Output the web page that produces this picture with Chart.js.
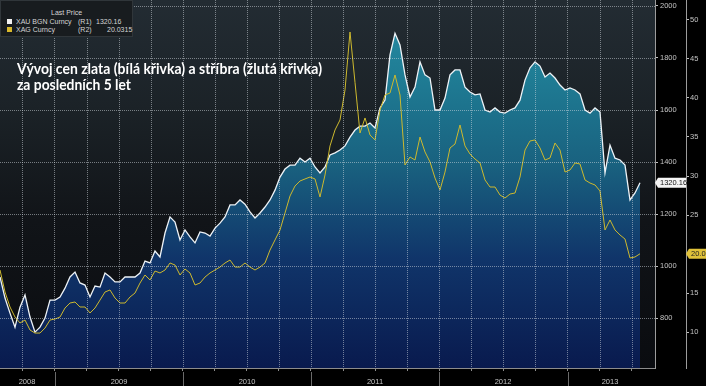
<!DOCTYPE html>
<html>
<head>
<meta charset="utf-8">
<title>Zlato a stříbro</title>
<script src="https://cdn.jsdelivr.net/npm/chart.js@4.4.0/dist/chart.umd.min.js"></script>
<style>
  html, body { margin: 0; padding: 0; background: #000; }
  #wrap { position: relative; width: 706px; height: 386px; overflow: hidden; }
  #chart { position: absolute; left: 0; top: 0; }
  .legend {
    position: absolute; left: 0; top: 0; width: 133px; height: 37px;
    background: #181c1f; border: 1px solid #30363a; box-sizing: border-box;
    font: 7px 'Liberation Sans', Arial, sans-serif; color: #d4d4d4;
  }
  .legend span, .legend i { position: absolute; line-height: 9px; white-space: nowrap; }
  .legend i { width: 5px; height: 5px; }
  .title-line {
    position: absolute; left: 17px; white-space: nowrap;
    font: bold 14.5px Lato, 'Open Sans', sans-serif; line-height: 15px;
    color: #fff; transform-origin: left top;
  }
</style>
</head>
<body>
<div id="wrap">
  <canvas id="chart" width="706" height="386"></canvas>

  <div class="legend">
    <span style="left:50px; top:7px;">Last Price</span>
    <i style="left:6px; top:18px; background:#f2f2f2;"></i>
    <span style="left:15px; top:16px;">XAU BGN Curncy</span>
    <span style="left:77px; top:16px;">(R1)</span>
    <span style="left:95px; top:16px;" id="goldLast"></span>
    <i style="left:6px; top:26px; background:#d9b92c;"></i>
    <span style="left:15px; top:24px;">XAG Curncy</span>
    <span style="left:77px; top:24px;">(R2)</span>
    <span style="left:106px; top:24px;" id="silverLast"></span>
  </div>

  <div class="title-line" data-w="305" style="top:61px;">Vývoj cen zlata (bílá křivka) a stříbra (žlutá křivka)</div>
  <div class="title-line" data-w="114" style="top:77px;">za posledních 5 let</div>
</div>

<script>
// vzorky cca po dvou týdnech, od léta 2008 do července 2013
const goldPrice = [
  958, 877, 819, 765, 842, 889, 804, 746, 765, 800,
  869, 869, 881, 915, 958, 977, 935, 927, 881, 923,
  919, 973, 958, 939, 939, 958, 958, 958, 973, 1019,
  1012, 1058, 1035, 1127, 1189, 1169, 1100, 1139, 1112, 1089,
  1131, 1127, 1115, 1146, 1165, 1189, 1235, 1235, 1254, 1238,
  1208, 1185, 1204, 1227, 1254, 1292, 1342, 1373, 1388, 1388,
  1415, 1400, 1415, 1381, 1358, 1381, 1427, 1435, 1446, 1462,
  1496, 1523, 1538, 1538, 1550, 1531, 1608, 1638, 1812, 1895,
  1850, 1735, 1650, 1688, 1785, 1735, 1723, 1600, 1600, 1646,
  1735, 1754, 1754, 1688, 1669, 1658, 1662, 1600, 1592, 1608,
  1592, 1588, 1600, 1608, 1638, 1715, 1762, 1785, 1769, 1727,
  1742, 1723, 1696, 1677, 1685, 1677, 1662, 1600, 1588, 1608,
  1592, 1358, 1465, 1415, 1408, 1388, 1254, 1281, 1320.16
];

const silverPrice = [
  17.95, 15.13, 13.21, 11.92, 11.16, 11.54, 10.26, 9.87, 9.87, 10.51,
  11.54, 11.67, 11.92, 13.08, 13.72, 13.85, 13.21, 13.21, 12.44, 13.08,
  14.1, 15.13, 15.39, 14.36, 13.72, 13.72, 14.49, 15.0, 16.28, 17.31,
  16.67, 17.82, 17.57, 17.95, 18.85, 18.59, 17.31, 18.08, 17.57, 16.03,
  16.28, 17.05, 17.57, 17.95, 18.33, 18.85, 19.23, 18.33, 18.33, 18.85,
  18.33, 17.95, 18.33, 18.85, 20.51, 21.8, 23.08, 25.26, 27.44, 28.72,
  29.36, 29.62, 29.87, 29.62, 27.31, 30.13, 33.85, 35.9, 37.18, 41.03,
  48.46, 42.0, 35.51, 37.44, 35.26, 34.62, 38.46, 40.38, 40.64, 42.95,
  40.38, 31.41, 32.44, 32.05, 35.0, 33.08, 31.8, 29.74, 28.21, 30.51,
  33.59, 34.1, 36.54, 33.85, 32.82, 32.18, 31.67, 29.49, 28.59, 28.59,
  27.56, 27.18, 27.69, 27.82, 29.87, 33.33, 34.49, 34.62, 33.59, 32.05,
  32.31, 34.23, 33.33, 30.51, 30.77, 31.67, 31.54, 29.49, 29.1, 28.85,
  28.08, 23.08, 24.36, 23.08, 22.44, 21.92, 19.49, 19.62, 20.0315
];

const sampleIdx = goldPrice.map((_, i) => i);

// osa x v jednotkách vzorků
const xMax = 131;
const quarterFirst = 4.485;
const quarterStep = 6.4125;
const yearStartAt = [10.9, 36.55, 62.2, 87.85, 113.5];
const yearLabelAt = [5.4, 23.8, 49.4, 75, 100.6, 122];
const yearLabels = ['2008', '2009', '2010', '2011', '2012', '2013'];

const goldTicks = [800, 1000, 1200, 1400, 1600, 1800, 2000];
const silverTicks = [10, 15, 20, 25, 30, 35, 40, 45, 50];
const goldRange = [608, 2023];
const silverRange = [5.39, 52.56];

const axisFont = { family: "'Liberation Sans', Arial, sans-serif", size: 7.5 };
const gridColor = 'rgba(215,222,228,0.5)';
const noLine = 'rgba(0,0,0,0)';

const quarterTicks = [];
for (let v = quarterFirst; v <= xMax; v += quarterStep) quarterTicks.push(v);

const yearTicks = [
  ...yearStartAt.map(v => ({ value: v, label: '' })),
  ...yearLabelAt.map((v, i) => ({ value: v, label: yearLabels[i] }))
].sort((a, b) => a.value - b.value);

function noPadding(s) {
  s.paddingTop = 0; s.paddingBottom = 0; s.paddingLeft = 0; s.paddingRight = 0;
}

const backgroundPlugin = {
  id: 'background',
  beforeDraw(chart) {
    const { ctx, chartArea: a } = chart;
    ctx.save();
    ctx.fillStyle = '#000';
    ctx.fillRect(0, 0, chart.width, chart.height);
    const g = ctx.createLinearGradient(0, a.top, 0, a.bottom);
    g.addColorStop(0, '#232c33');
    g.addColorStop(0.3, '#1b2227');
    g.addColorStop(0.6, '#111418');
    g.addColorStop(1, '#0a0c10');
    ctx.fillStyle = g;
    ctx.fillRect(a.left, a.top, a.right - a.left, a.bottom - a.top);
    ctx.restore();
  }
};

// tečkovaná mřížka podle ticků os x a yGold, přes výplň
const dottedGridPlugin = {
  id: 'dottedGrid',
  afterDatasetsDraw(chart) {
    const { ctx, chartArea: a, scales } = chart;
    ctx.save();
    ctx.strokeStyle = gridColor;
    ctx.lineWidth = 1;
    ctx.setLineDash([1, 1]);
    scales.x.ticks.forEach(t => {
      const x = Math.round(scales.x.getPixelForValue(t.value)) + 0.5;
      ctx.beginPath();
      ctx.moveTo(x, a.top);
      ctx.lineTo(x, a.bottom);
      ctx.stroke();
    });
    scales.yGold.ticks.forEach(t => {
      const y = Math.round(scales.yGold.getPixelForValue(t.value)) + 0.5;
      ctx.beginPath();
      ctx.moveTo(a.left, y);
      ctx.lineTo(a.right, y);
      ctx.stroke();
    });
    ctx.restore();
  }
};

// oddělovače let pod osou x
const yearSeparatorPlugin = {
  id: 'yearSeparators',
  afterDraw(chart) {
    const { ctx, scales } = chart;
    const s = scales.xYear;
    ctx.save();
    ctx.strokeStyle = '#6a6a6a';
    ctx.lineWidth = 1;
    yearStartAt.forEach(v => {
      const x = Math.round(s.getPixelForValue(v)) + 0.5;
      ctx.beginPath();
      ctx.moveTo(x, s.top);
      ctx.lineTo(x, s.bottom);
      ctx.stroke();
    });
    ctx.restore();
  }
};

function drawTag(ctx, x, y, w, bg, fg, text) {
  const h = 10;
  ctx.save();
  ctx.fillStyle = bg;
  ctx.beginPath();
  ctx.moveTo(x - 3, y);
  ctx.lineTo(x, y - h / 2);
  ctx.lineTo(x + w, y - h / 2);
  ctx.lineTo(x + w, y + h / 2);
  ctx.lineTo(x, y + h / 2);
  ctx.closePath();
  ctx.fill();
  ctx.fillStyle = fg;
  ctx.font = "7.5px 'Liberation Sans', Arial, sans-serif";
  ctx.textBaseline = 'middle';
  ctx.fillText(text, x + 2, y + 0.5);
  ctx.restore();
}

const lastValuePlugin = {
  id: 'lastValue',
  afterDraw(chart) {
    const { ctx, scales } = chart;
    const gold = goldPrice[goldPrice.length - 1];
    const silver = silverPrice[silverPrice.length - 1];
    drawTag(ctx, scales.yGold.left + 3, scales.yGold.getPixelForValue(gold), 28, '#f4f4f4', '#111', gold.toFixed(2));
    drawTag(ctx, scales.ySilver.left + 3, scales.ySilver.getPixelForValue(silver), 30, '#e0c23a', '#222', silver.toFixed(4));
  }
};

function initChart() {
  const canvas = document.getElementById('chart');

  new Chart(canvas, {
    type: 'line',
    data: {
      datasets: [
        {
          label: 'XAU BGN Curncy',
          data: sampleIdx.map(i => ({ x: i, y: goldPrice[i] })),
          yAxisID: 'yGold',
          borderColor: '#eef3f7',
          borderWidth: 1.3,
          pointRadius: 0,
          tension: 0,
          fill: 'start',
          order: 2,
          backgroundColor: ctx => {
            const a = ctx.chart.chartArea;
            if (!a) return noLine;
            const g = ctx.chart.ctx.createLinearGradient(0, a.top, 0, a.bottom);
            g.addColorStop(0, '#2a8ea6');
            g.addColorStop(0.2, '#1f7d95');
            g.addColorStop(0.45, '#19617f');
            g.addColorStop(0.7, '#10356a');
            g.addColorStop(1, '#091a4e');
            return g;
          }
        },
        {
          label: 'XAG Curncy',
          data: sampleIdx.map(i => ({ x: i, y: silverPrice[i] })),
          yAxisID: 'ySilver',
          borderColor: '#cdb92e',
          borderWidth: 1,
          pointRadius: 0,
          tension: 0,
          fill: false,
          order: 1
        }
      ]
    },
    options: {
      responsive: false,
      animation: false,
      devicePixelRatio: 1,
      layout: { padding: 0 },
      plugins: { legend: { display: false }, tooltip: { enabled: false } },
      scales: {
        x: {
          type: 'linear', position: 'bottom', min: 0, max: xMax,
          afterBuildTicks: s => { s.ticks = quarterTicks.map(v => ({ value: v })); },
          afterFit: s => { s.height = 4; noPadding(s); },
          ticks: { display: false, autoSkip: false },
          grid: { drawOnChartArea: false, tickColor: '#8c8c8c', tickLength: 3 },
          border: { color: '#8c8c8c', width: 1 }
        },
        xYear: {
          type: 'linear', position: 'bottom', min: 0, max: xMax,
          afterBuildTicks: s => { s.ticks = yearTicks.map(t => ({ value: t.value })); },
          afterFit: s => { s.height = 14; noPadding(s); },
          ticks: {
            autoSkip: false, maxRotation: 0, minRotation: 0, padding: -8.5,
            color: '#c4c4c4', font: axisFont,
            callback: (v, i) => yearTicks[i].label
          },
          grid: { drawOnChartArea: false, tickLength: 14, tickColor: noLine },
          border: { display: false }
        },
        yGold: {
          type: 'linear', position: 'right', min: goldRange[0], max: goldRange[1],
          afterBuildTicks: s => { s.ticks = goldTicks.map(v => ({ value: v })); },
          afterFit: s => { s.width = 31; noPadding(s); },
          ticks: {
            autoSkip: false, padding: 2, color: '#c4c4c4', font: axisFont,
            callback: v => String(v)
          },
          grid: { drawOnChartArea: false, tickColor: '#c0c0c0', tickLength: 3 },
          border: { color: '#9c9c9c', width: 1 }
        },
        ySilver: {
          type: 'linear', position: 'right', min: silverRange[0], max: silverRange[1],
          afterBuildTicks: s => { s.ticks = silverTicks.map(v => ({ value: v })); },
          afterFit: s => { s.width = 20; noPadding(s); },
          ticks: {
            autoSkip: false, padding: 1, color: '#c4c4c4', font: axisFont,
            callback: v => String(v)
          },
          grid: { drawOnChartArea: false, tickLength: 3, tickColor: '#c0c0c0' },
          border: { color: '#9c9c9c' }
        }
      }
    },
    plugins: [backgroundPlugin, dottedGridPlugin, yearSeparatorPlugin, lastValuePlugin]
  });
}

function initLegend() {
  document.getElementById('goldLast').textContent = goldPrice[goldPrice.length - 1].toFixed(2);
  document.getElementById('silverLast').textContent = silverPrice[silverPrice.length - 1].toFixed(4);
}

function fitTitle() {
  // šířku nadpisu dorovnáme na šířku v originále
  document.querySelectorAll('.title-line').forEach(el => {
    const target = Number(el.dataset.w);
    const w = el.getBoundingClientRect().width;
    if (w > 0) el.style.transform = `scaleX(${target / w})`;
  });
}

document.addEventListener('DOMContentLoaded', () => {
  initChart();
  initLegend();
  fitTitle();
});
</script>
</body>
</html>
